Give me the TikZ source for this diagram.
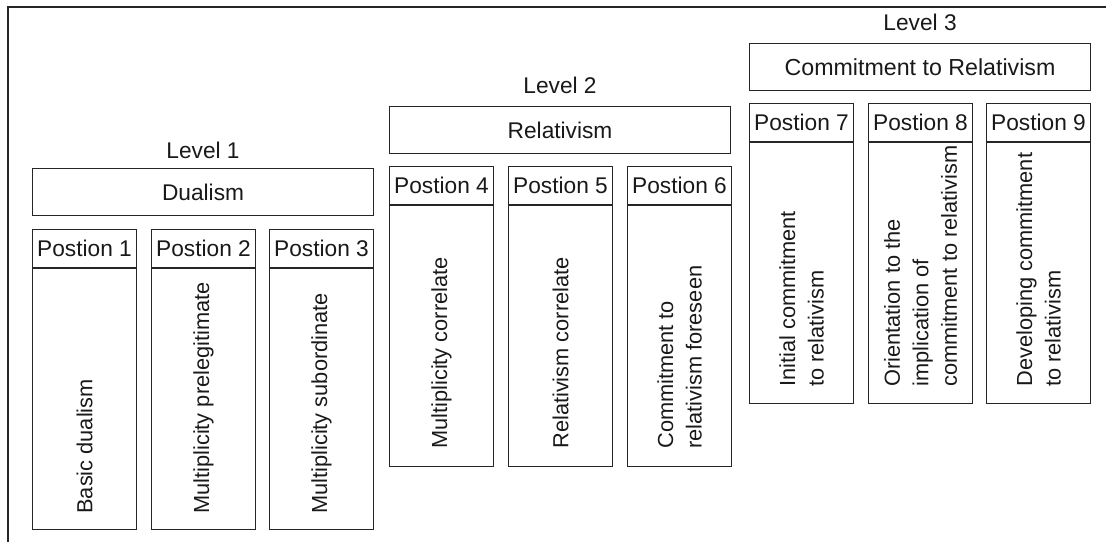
\documentclass[tikz,border=0pt]{standalone}
\usepackage{fontspec}
\setmainfont{Liberation Sans}
\begin{document}
\begin{tikzpicture}[x=1pt,y=-1pt,line width=1.1pt,
  every node/.style={font=\fontsize{22.7}{28.5}\selectfont,text=black!90},
  levelbox/.style={draw=black!85,inner sep=0pt,anchor=north west,minimum width=341pt,minimum height=47pt},
  hdrbox/.style={draw=black!85,inner sep=0pt,anchor=north west,minimum width=104pt,minimum height=38pt},
  bodybox/.style={draw=black!85,inner sep=0pt,anchor=north west,minimum width=104pt,minimum height=#1},
  vtext/.style={rotate=90,anchor=west,align=left,inner sep=0pt,font=\fontsize{21.8}{28.5}\selectfont},
  lvl/.style={anchor=base,inner sep=0pt}]
\useasboundingbox (0,0) rectangle (1106,542);
\draw[black!85] (1106,7) -- (8,7) -- (8,542);

% Level 1
\node[levelbox] (dual) at (32,168) {Dualism};
\node[lvl] (lv1) at ([yshift=10pt]dual.north) {Level 1};
\node[hdrbox] (h1) at (32,229) {Postion 1};
\node[hdrbox] (h2) at (151,229) {Postion 2};
\node[hdrbox] (h3) at (269,229) {Postion 3};
\node[bodybox=261pt] (b1) at (h1.south west) {};
\node[bodybox=261pt] (b2) at (h2.south west) {};
\node[bodybox=261pt] (b3) at (h3.south west) {};
\node[vtext] (t1) at ([yshift=16pt]b1.south) {Basic dualism};
\node[vtext] (t2) at ([yshift=16pt]b2.south) {Multiplicity prelegitimate};
\node[vtext] (t3) at ([yshift=16pt]b3.south) {Multiplicity subordinate};

% Level 2
\node[levelbox] (rel) at (389,106) {Relativism};
\node[lvl] (lv2) at ([yshift=13pt]rel.north) {Level 2};
\node[hdrbox] (h4) at (389,166) {Postion 4};
\node[hdrbox] (h5) at (508,166) {Postion 5};
\node[hdrbox] (h6) at (627,166) {Postion 6};
\node[bodybox=261pt] (b4) at (h4.south west) {};
\node[bodybox=261pt] (b5) at (h5.south west) {};
\node[bodybox=261pt] (b6) at (h6.south west) {};
\node[vtext] (t4) at ([yshift=18pt]b4.south) {Multiplicity correlate};
\node[vtext] (t5) at ([yshift=18pt]b5.south) {Relativism correlate};
\node[vtext] (t6) at ([yshift=18pt]b6.south) {Commitment to\\relativism foreseen};

% Level 3
\node[levelbox,font=\fontsize{23.2}{28.5}\selectfont] (com) at (749,43) {Commitment to Relativism};
\node[lvl] (lv3) at ([yshift=13pt]com.north) {Level 3};
\node[hdrbox] (h7) at (749,103) {Postion 7};
\node[hdrbox] (h8) at (868,103) {Postion 8};
\node[hdrbox] (h9) at (986,103) {Postion 9};
\node[bodybox=261pt] (b7) at (h7.south west) {};
\node[bodybox=261pt] (b8) at (h8.south west) {};
\node[bodybox=261pt] (b9) at (h9.south west) {};
\node[vtext] (t7) at ([yshift=17pt]b7.south) {Initial commitment\\to relativism};
\node[vtext] (t8) at ([yshift=17pt]b8.south) {Orientation to the\\implication of\\commitment to relativism};
\node[vtext] (t9) at ([yshift=17pt]b9.south) {Developing commitment\\to relativism};
\end{tikzpicture}
\end{document}
